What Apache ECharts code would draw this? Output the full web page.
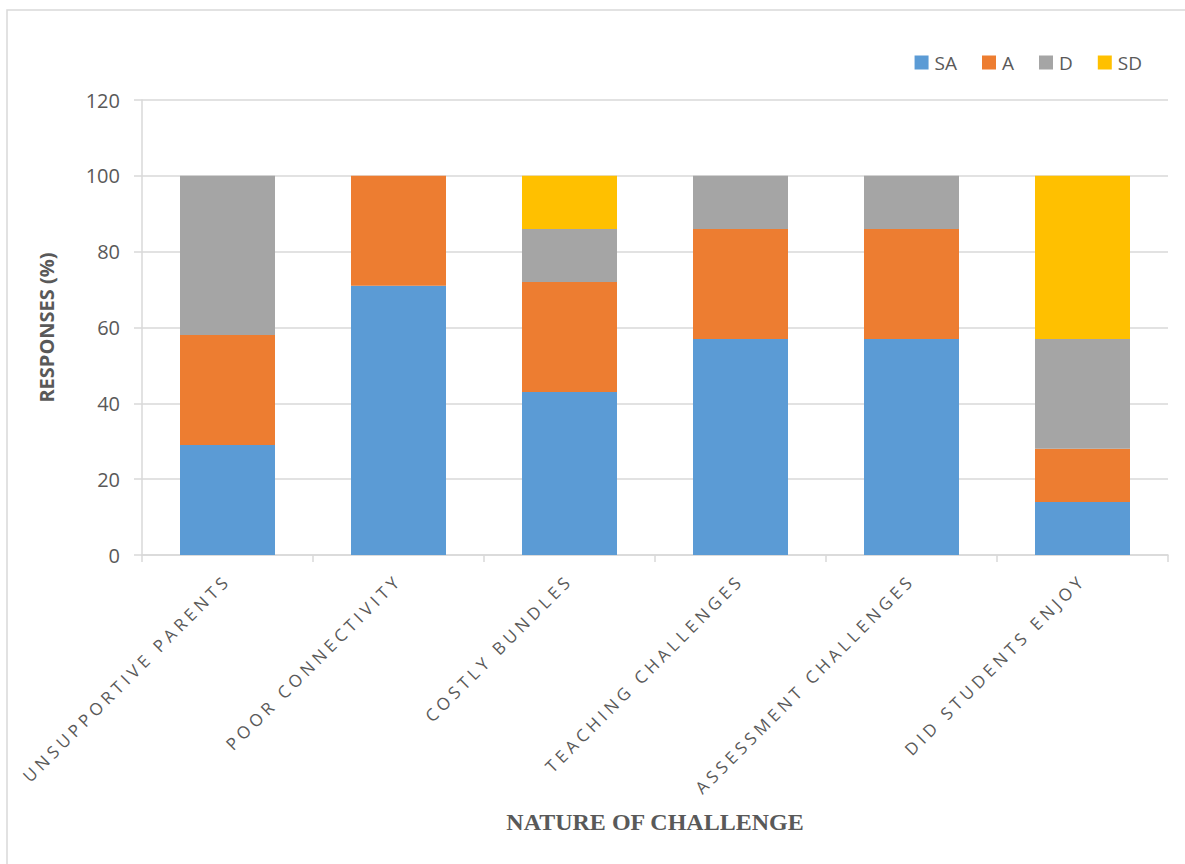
<!DOCTYPE html>
<html>
<head>
<meta charset="utf-8">
<script src="https://cdn.jsdelivr.net/npm/echarts@6/dist/echarts.min.js"></script>
<style>html,body{margin:0;padding:0;background:#fff}#c{width:1185px;height:864px}</style>
</head>
<body>
<div id="c"></div>
<script>
const categories = ['UNSUPPORTIVE PARENTS','POOR CONNECTIVITY','COSTLY BUNDLES','TEACHING CHALLENGES','ASSESSMENT CHALLENGES','DID STUDENTS ENJOY'];
const seriesNames = ['SA','A','D','SD'];
const SA = [29, 71, 43, 57, 57, 14];
const A  = [29, 29, 29, 29, 29, 14];
const D  = [42, 0, 14, 14, 14, 29];
const SD = [0, 0, 14, 0, 0, 43];
const yTicks = [0, 20, 40, 60, 80, 100, 120];
const colors = ['#5B9BD5','#ED7D31','#A5A5A5','#FFC000'];

const values = [SA, A, D, SD];
const chart = echarts.init(document.getElementById('c'), null, {renderer: 'svg'});
chart.setOption({
  animation: false,
  color: colors,
  grid: {left: 142, right: 17, top: 100, bottom: 309, containLabel: false},
  legend: {
    data: seriesNames, right: 38, top: 48, itemWidth: 14, itemHeight: 14, itemGap: 25,
    icon: 'rect',
    textStyle: {color: '#595959', fontSize: 19, fontFamily: 'Open Sans', padding: [0, 0, 0, 1]}
  },
  graphic: [
    {type: 'rect', shape: {x: 7, y: 10, width: 1300, height: 1000}, style: {fill: 'none', stroke: '#d9d9d9', lineWidth: 1.5}, z: -10},
    {type: 'text', style: {text: 'NATURE OF CHALLENGE', x: 655, y: 822, align: 'center', verticalAlign: 'middle', font: 'bold 24px "Liberation Serif"', fill: '#595959'}}
  ],
  xAxis: {
    type: 'category', data: categories,
    axisLine: {lineStyle: {color: '#d9d9d9', width: 1.5}},
    axisTick: {show: true, length: 7, lineStyle: {color: '#d9d9d9', width: 1.5}},
    axisLabel: {rotate: 45, interval: 0, margin: 22, color: '#595959', fontSize: 17, fontFamily: 'Open Sans'}
  },
  yAxis: {
    type: 'value', min: yTicks[0], max: yTicks[yTicks.length-1], interval: 20,
    name: 'RESPONSES (%)', nameLocation: 'middle', nameGap: 86,
    nameTextStyle: {color: '#595959', fontSize: 20, fontWeight: 'bold', fontFamily: 'Open Sans'},
    axisLine: {show: true, lineStyle: {color: '#d9d9d9', width: 1.5}},
    axisTick: {show: true, length: 8, lineStyle: {color: '#d9d9d9', width: 1.5}},
    axisLabel: {color: '#595959', fontSize: 20, fontFamily: 'Open Sans', margin: 22},
    splitLine: {lineStyle: {color: '#d9d9d9', width: 1.5}}
  },
  series: seriesNames.map((n, i) => ({
    name: n, type: 'bar', stack: 'total', barWidth: 95, data: values[i]
  }))
});
function spaceLabels() {
  document.querySelectorAll('#c svg text').forEach(t => {
    if (categories.includes(t.textContent)) t.setAttribute('letter-spacing', '4.2');
  });
}
spaceLabels();
chart.on('finished', spaceLabels);
setTimeout(spaceLabels, 50);
</script>
</body>
</html>
